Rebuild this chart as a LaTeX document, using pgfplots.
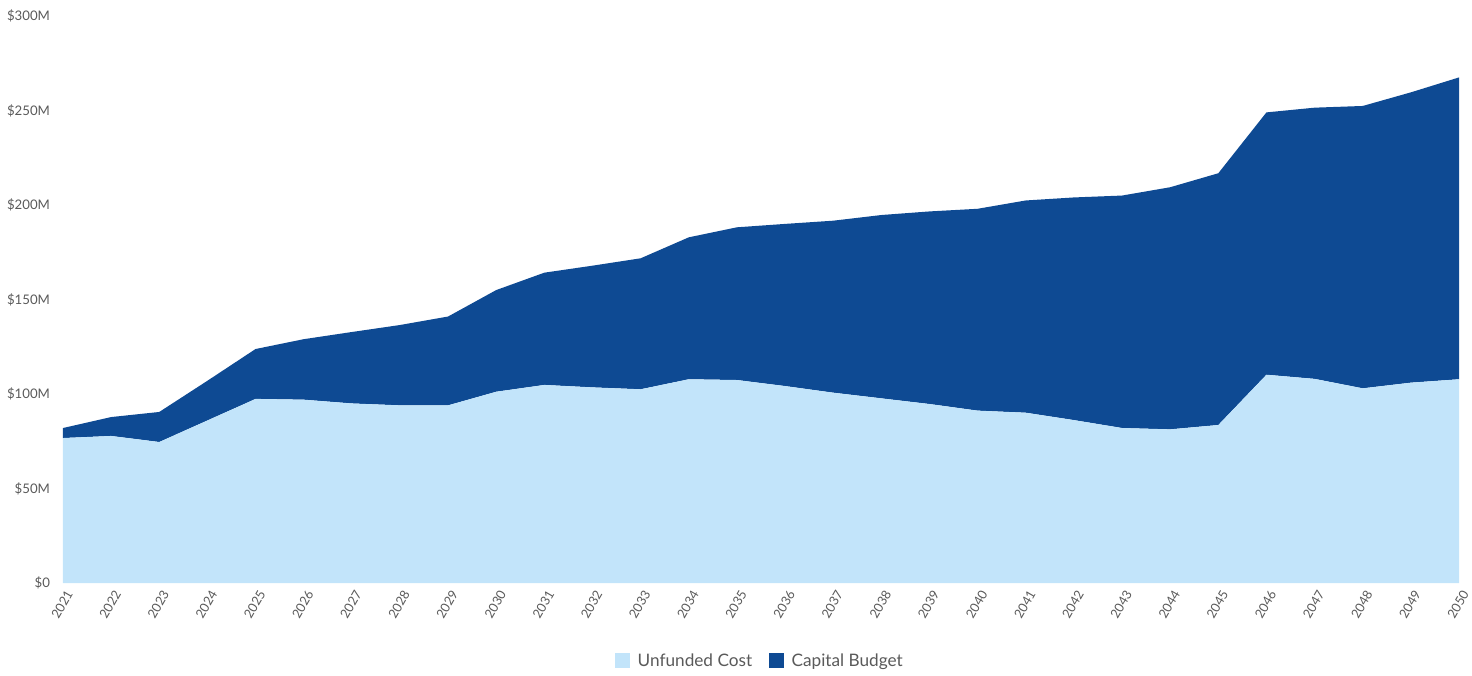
\documentclass[border=0pt]{standalone}
\usepackage{fontspec}
\setmainfont{Lato}
\usepackage{pgfplots}
\usepackage{pgfplotstable}
\pgfplotsset{compat=1.18}
\definecolor{lightb}{HTML}{C2E4FA}
\definecolor{darkb}{HTML}{0E4A93}
\definecolor{tickgray}{HTML}{5A5A5A}
\pgfplotstableread{
year unfunded capital
2021 76.7 5.3
2022 77.8 10.0
2023 74.6 15.9
2024 86.0 21.0
2025 97.4 26.4
2026 97.0 32.0
2027 95.0 37.8
2028 94.0 42.5
2029 94.0 47.0
2030 101.2 53.8
2031 104.8 59.4
2032 103.5 64.4
2033 102.5 69.3
2034 107.8 75.1
2035 107.4 80.8
2036 104.2 85.8
2037 100.7 91.0
2038 97.7 97.0
2039 94.7 101.9
2040 91.2 106.8
2041 90.1 112.3
2042 86.2 117.8
2043 82.0 123.0
2044 81.3 128.1
2045 83.6 133.2
2046 110.2 138.8
2047 108.0 143.5
2048 103.0 149.4
2049 106.0 153.6
2050 107.8 159.7
}\datatable
\begin{document}
\begin{tikzpicture}
\begin{axis}[
  name=main,
  scale only axis,
  width=698pt, height=283.5pt,
  xmin=2021, xmax=2050, ymin=0, ymax=300,
  axis line style={draw=none},
  major tick length=0pt,
  xtick={2021,2022,2023,2024,2025,2026,2027,2028,2029,2030,2031,2032,2033,2034,2035,2036,2037,2038,2039,2040,2041,2042,2043,2044,2045,2046,2047,2048,2049,2050},
  xticklabels={2021,2022,2023,2024,2025,2026,2027,2028,2029,2030,2031,2032,2033,2034,2035,2036,2037,2038,2039,2040,2041,2042,2043,2044,2045,2046,2047,2048,2049,2050},
  xticklabel style={rotate=60, anchor=east, font=\fontsize{6.4}{7.5}\selectfont, text=tickgray, inner sep=0.5pt, xshift=-1.5pt, yshift=-5pt},
  ytick={0,50,100,150,200,250,300},
  yticklabels={\$0,\$50M,\$100M,\$150M,\$200M,\$250M,\$300M},
  yticklabel style={font=\fontsize{6.6}{8}\selectfont, text=tickgray, xshift=-3pt},
  stack plots=y,
  clip=false,
  legend columns=2,
  legend style={at={(0.5,-0.138)}, anchor=center, draw=none, font=\fontsize{8.6}{10}\selectfont, text=tickgray,
    /tikz/every odd column/.append style={column sep=2pt},
    /tikz/every even column/.append style={column sep=6.5pt}},
  legend image code/.code={\fill[#1] (0pt,-3.2pt) rectangle (7.2pt,4pt);},
]
\addplot[fill=lightb, draw=none] table[x=year, y=unfunded] {\datatable} \closedcycle;
\addlegendentry{Unfunded Cost}
\addplot[fill=darkb, draw=none] table[x=year, y=capital] {\datatable} \closedcycle;
\addlegendentry{Capital Budget}
\end{axis}
\pgfresetboundingbox
\path (main.south west) ++(-31.5pt,-46pt) coordinate (bl);
\path (main.north east) ++(6.5pt,8pt) coordinate (tr);
\path[use as bounding box] (bl) rectangle (tr);
\end{tikzpicture}
\end{document}
